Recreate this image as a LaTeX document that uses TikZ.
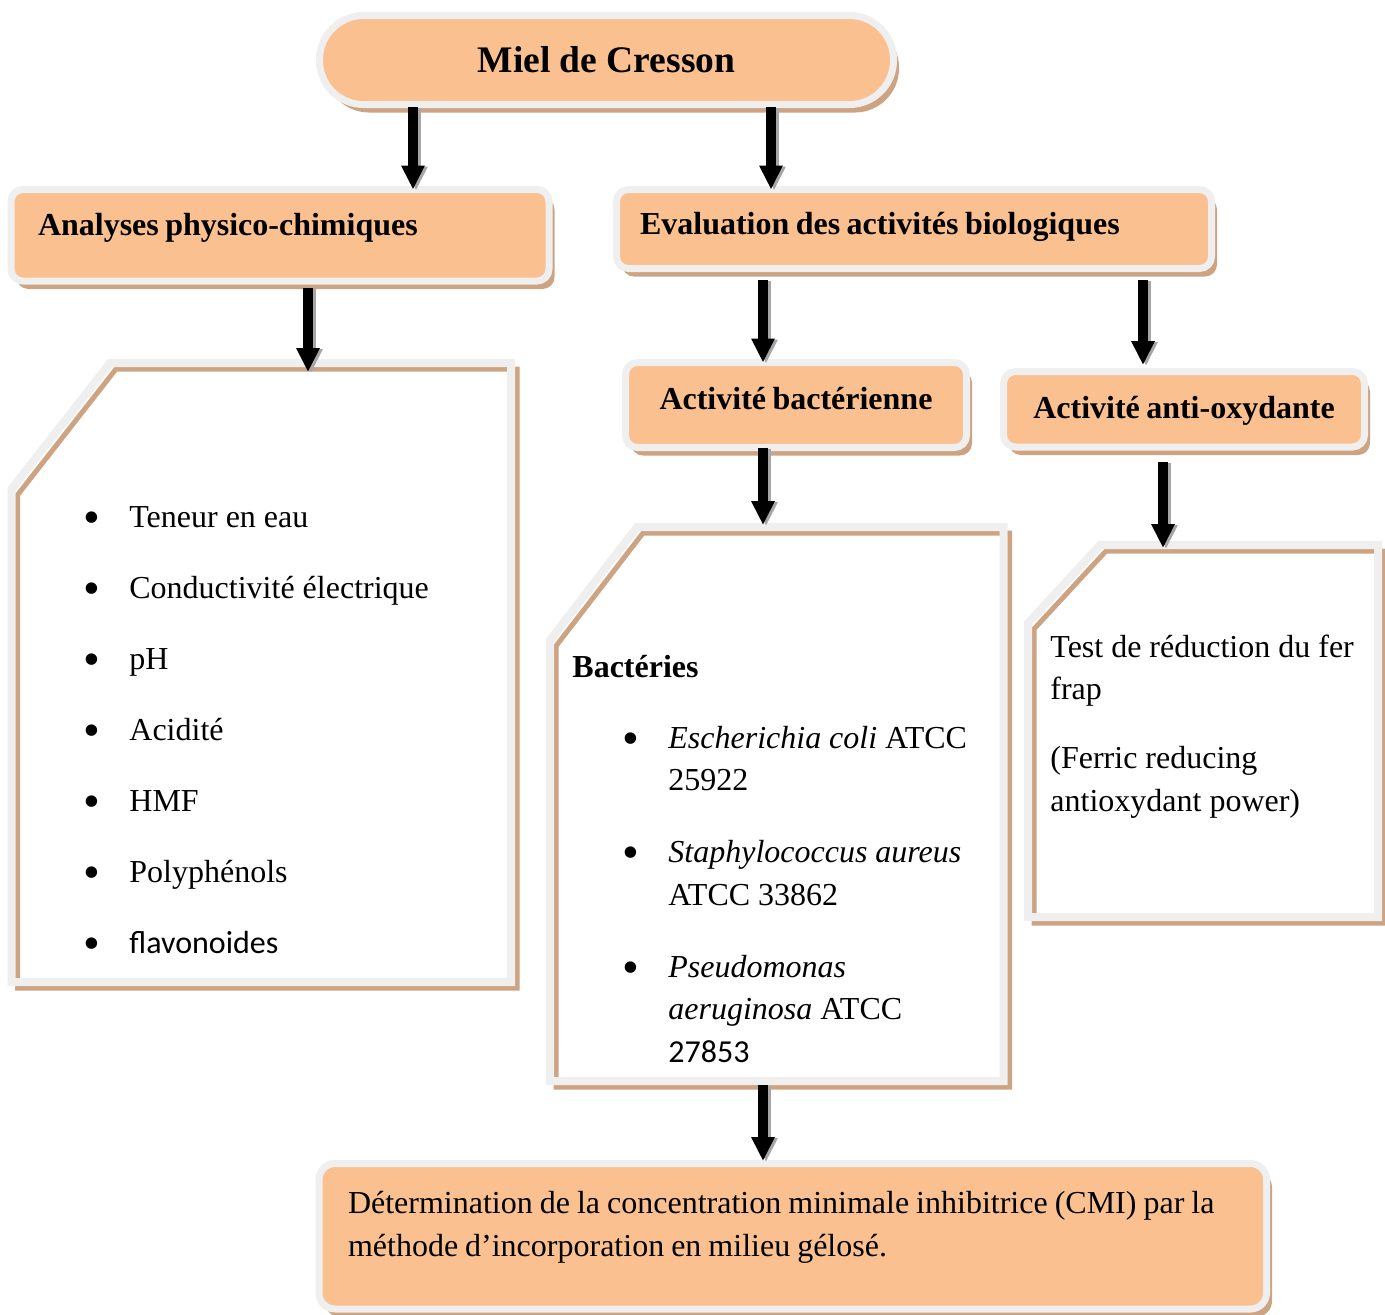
\documentclass[tikz,border=0pt]{standalone}
\usepackage{fontspec}
\setmainfont{Liberation Serif}
\newfontfamily\calibri{Carlito}
\usetikzlibrary{arrows.meta,shadows,calc}

\definecolor{peche}{HTML}{FAC090}
\definecolor{fauve}{HTML}{CDA382}
\definecolor{grisbord}{HTML}{EFEFEF}
\definecolor{grisfl}{HTML}{A6A6A6}

\newcommand\puce{\makebox[23pt][l]{\raisebox{-0.2em}{\scalebox{1.5}{\textbullet}}}}
\newcommand\serre[1]{\spaceskip=#1\relax}

% cadre a coin coupe, trace sur un noeud rectangle vide
\newcommand\coupe[3]{%
  \def\contour{($(#1.north west)+(#2,0)$) -- (#1.north east) -- (#1.south east)
    -- (#1.south west) -- ($(#1.north west)+(0,#3)$) -- cycle}%
  \fill[white] \contour;
  \begin{scope}[transform canvas={shift={(3pt,-3pt)}}]
    \draw[fauve, line width=2.5pt] \contour;
  \end{scope}
  \draw[grisbord, line width=4pt] \contour;}

% fleche avec son ombre grise
\newcommand\fleche[3][]{%
  \draw[flombre,#1] #2 -- #3;
  \draw[fl,#1] #2 -- #3;}

\tikzset{
  boite/.style={draw=grisbord, line width=3.5pt, fill=peche, rounded corners=6pt,
    inner sep=0pt, outer sep=0pt, anchor=north west,
    font=\fontsize{16}{21.25}\selectfont\bfseries,
    drop shadow={shadow xshift=2.75pt, shadow yshift=-4pt, fill=fauve, opacity=1}},
  cadre/.style={rectangle, inner sep=0pt, outer sep=0pt, anchor=north west},
  texte/.style={inner sep=0pt, anchor=base west, font=\fontsize{16}{21.25}\selectfont},
  fl/.style={line width=5pt, -{Triangle[width=11pt,length=12pt]}},
  flombre/.style={fl, grisfl, transform canvas={shift={(1.5pt,-0.5pt)}}},
}

\begin{document}
\begin{tikzpicture}[x=0.5pt, y=-0.5pt]
	\useasboundingbox (0,0) rectangle (1385,1314);

	\node[boite, rounded corners=22pt, minimum width=287pt, minimum height=44.5pt,
		font=\fontsize{18.75}{22}\selectfont\bfseries] (titre) at (319.5,15.5) {Miel de Cresson};
	\node[boite, text width=242pt, align=left, inner xsep=13.5pt, text height=22.75pt,
		text depth=23pt] (analyses) at (11,189.5) {\serre{3.2pt}Analyses physico-chimiques};
	\node[boite, text width=274pt, align=left, inner xsep=11.75pt, text height=22.25pt,
		text depth=17.25pt] (evaluation) at (616.5,189.5) {\serre{3.2pt}Evaluation des activités biologiques};
	\node[boite, text width=170.5pt, align=center, text height=23.25pt,
		text depth=19.25pt] (bacterienne) at (625.5,362.5) {\serre{3.2pt}Activité bactérienne};
	\node[boite, text width=180.5pt, align=center, text height=23.25pt,
		text depth=14.5pt] (antiox) at (1003.5,371.5) {\serre{3.2pt}Activité anti-oxydante};
	\node[boite, rounded corners=8pt, font=\fontsize{16}{21.5}\selectfont, text width=444.75pt,
		align=left, inner xsep=14.5pt, text height=24.75pt, text depth=48pt] (cmi) at (319,1163.5)
		{\serre{3.5pt}\begin{tabular}[t]{@{}l@{}}Détermination de la concentration minimale inhibitrice (CMI) par la\\
		méthode d’incorporation en milieu gélosé.\end{tabular}};

	\node[cadre, minimum width=249.75pt, minimum height=309.5pt] (listeA) at (11.5,363) {};
	\node[cadre, minimum width=226.75pt, minimum height=277pt] (listeB) at (550,527) {};
	\node[cadre, minimum width=175pt, minimum height=186pt] (listeC) at (1028,545) {};
	\coupe{listeA}{98.5}{126}
	\coupe{listeB}{87}{113}
	\coupe{listeC}{72}{78}

	\node[texte] (itemsA) at (83,527) {\fontsize{16}{35.5}\selectfont
		\begin{tabular}[t]{@{}l@{}l@{}}
		\puce & Teneur en eau\\
		\puce & Conductivité électrique\\
		\puce & pH\\
		\puce & Acidité\\
		\puce & HMF\\
		\puce & Polyphénols\\
		\puce & {\calibri flavonoides}
		\end{tabular}};
	\node[texte] (itemsB) at (572,677) {\begin{tabular}[t]{@{}l@{}l@{}}
		\multicolumn{2}{@{}l@{}}{\textbf{Bactéries}}\\[14.25pt]
		\hspace{25pt}\puce & \textit{Escherichia coli} ATCC\\
		 & 25922\\[14.75pt]
		\hspace{25pt}\puce & \textit{Staphylococcus aureus}\\
		 & ATCC 33862\\[14.75pt]
		\hspace{25pt}\puce & \textit{Pseudomonas}\\
		 & \textit{aeruginosa} ATCC\\
		 & {\calibri 27853}
		\end{tabular}};
	\node[texte] (fer) at (1050,657) {\begin{tabular}[t]{@{}l@{}}
		Test de réduction du fer\\
		frap\\[13.25pt]
		(Ferric reducing\\
		antioxydant power)
		\end{tabular}};

	\coordinate (xa) at (413,0);
	\coordinate (xb) at (771,0);
	\coordinate (xc) at (308,0);
	\coordinate (xd) at (763,0);
	\coordinate (xe) at (1143,0);
	\coordinate (xf) at (1163,0);

	\fleche[shorten <=1.25pt]{(titre.south -| xa)}{(analyses.north -| xa)}
	\fleche[shorten <=1.25pt]{(titre.south -| xb)}{(evaluation.north -| xb)}
	\fleche[shorten <=3.5pt, shorten >=-4.5pt]{(analyses.south -| xc)}{(listeA.north -| xc)}
	\fleche[shorten <=5.75pt]{(evaluation.south -| xd)}{(bacterienne.north -| xd)}
	\fleche[shorten <=5.75pt, shorten >=3.25pt]{(evaluation.south -| xe)}{(antiox.north -| xe)}
	\fleche[shorten >=1pt]{(bacterienne.south -| xd)}{(listeB.north -| xd)}
	\fleche[shorten <=7.5pt, shorten >=-1.5pt]{(antiox.south -| xf)}{(listeC.north -| xf)}
	\fleche[shorten <=2pt, shorten >=1.25pt]{(listeB.south -| xd)}{(cmi.north -| xd)}
\end{tikzpicture}
\end{document}
